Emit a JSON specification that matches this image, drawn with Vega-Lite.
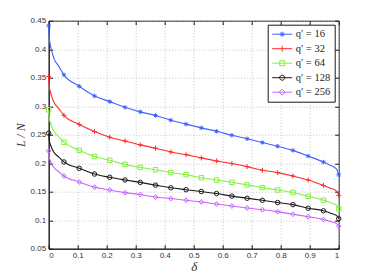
{
  "$schema": "https://vega.github.io/schema/vega-lite/v6.json",
  "width": 290,
  "height": 228,
  "autosize": "none",
  "padding": {"left": 48.7, "top": 20.7, "right": 35.3, "bottom": 31.3},
  "background": "white",
  "config": {
    "view": {"stroke": "#1a1a1a", "strokeWidth": 1},
    "axis": {
      "labelFont": "Liberation Sans",
      "labelFontSize": 8,
      "labelColor": "#333333",
      "tickColor": "#1a1a1a",
      "domainColor": "#1a1a1a",
      "titleFont": "Liberation Serif",
      "titleFontStyle": "italic",
      "titleFontWeight": "normal",
      "titleColor": "#333333",
      "gridColor": "#b8b8b8",
      "gridDash": [1, 2],
      "gridWidth": 0.8
    },
    "legend": {
      "symbolOpacity": 1
    }
  },
  "data": {
    "values": [
      {"series": "q′ = 16", "delta": 0, "LN": 0.441, "marker": 1},
      {"series": "q′ = 16", "delta": 0.002, "LN": 0.4195, "marker": 0},
      {"series": "q′ = 16", "delta": 0.007, "LN": 0.404, "marker": 0},
      {"series": "q′ = 16", "delta": 0.018, "LN": 0.384, "marker": 0},
      {"series": "q′ = 16", "delta": 0.036, "LN": 0.369, "marker": 0},
      {"series": "q′ = 16", "delta": 0.0526, "LN": 0.355, "marker": 1},
      {"series": "q′ = 16", "delta": 0.1053, "LN": 0.335, "marker": 1},
      {"series": "q′ = 16", "delta": 0.1579, "LN": 0.318, "marker": 1},
      {"series": "q′ = 16", "delta": 0.2105, "LN": 0.308, "marker": 1},
      {"series": "q′ = 16", "delta": 0.2632, "LN": 0.298, "marker": 1},
      {"series": "q′ = 16", "delta": 0.3158, "LN": 0.29, "marker": 1},
      {"series": "q′ = 16", "delta": 0.3684, "LN": 0.2837, "marker": 1},
      {"series": "q′ = 16", "delta": 0.4211, "LN": 0.2755, "marker": 1},
      {"series": "q′ = 16", "delta": 0.4737, "LN": 0.2685, "marker": 1},
      {"series": "q′ = 16", "delta": 0.5263, "LN": 0.262, "marker": 1},
      {"series": "q′ = 16", "delta": 0.5789, "LN": 0.256, "marker": 1},
      {"series": "q′ = 16", "delta": 0.6316, "LN": 0.249, "marker": 1},
      {"series": "q′ = 16", "delta": 0.6842, "LN": 0.2428, "marker": 1},
      {"series": "q′ = 16", "delta": 0.7368, "LN": 0.2363, "marker": 1},
      {"series": "q′ = 16", "delta": 0.7895, "LN": 0.2298, "marker": 1},
      {"series": "q′ = 16", "delta": 0.8421, "LN": 0.2225, "marker": 1},
      {"series": "q′ = 16", "delta": 0.8947, "LN": 0.2125, "marker": 1},
      {"series": "q′ = 16", "delta": 0.9474, "LN": 0.202, "marker": 1},
      {"series": "q′ = 16", "delta": 0.97, "LN": 0.1966, "marker": 0},
      {"series": "q′ = 16", "delta": 0.985, "LN": 0.1929, "marker": 0},
      {"series": "q′ = 16", "delta": 0.995, "LN": 0.1878, "marker": 0},
      {"series": "q′ = 16", "delta": 1, "LN": 0.1796, "marker": 1},

      {"series": "q′ = 32", "delta": 0, "LN": 0.352, "marker": 1},
      {"series": "q′ = 32", "delta": 0.002, "LN": 0.335, "marker": 0},
      {"series": "q′ = 32", "delta": 0.007, "LN": 0.3228, "marker": 0},
      {"series": "q′ = 32", "delta": 0.018, "LN": 0.3071, "marker": 0},
      {"series": "q′ = 32", "delta": 0.036, "LN": 0.2949, "marker": 0},
      {"series": "q′ = 32", "delta": 0.0526, "LN": 0.284, "marker": 1},
      {"series": "q′ = 32", "delta": 0.1053, "LN": 0.268, "marker": 1},
      {"series": "q′ = 32", "delta": 0.1579, "LN": 0.2556, "marker": 1},
      {"series": "q′ = 32", "delta": 0.2105, "LN": 0.2456, "marker": 1},
      {"series": "q′ = 32", "delta": 0.2632, "LN": 0.239, "marker": 1},
      {"series": "q′ = 32", "delta": 0.3158, "LN": 0.2322, "marker": 1},
      {"series": "q′ = 32", "delta": 0.3684, "LN": 0.2263, "marker": 1},
      {"series": "q′ = 32", "delta": 0.4211, "LN": 0.2198, "marker": 1},
      {"series": "q′ = 32", "delta": 0.4737, "LN": 0.215, "marker": 1},
      {"series": "q′ = 32", "delta": 0.5263, "LN": 0.2093, "marker": 1},
      {"series": "q′ = 32", "delta": 0.5789, "LN": 0.204, "marker": 1},
      {"series": "q′ = 32", "delta": 0.6316, "LN": 0.1994, "marker": 1},
      {"series": "q′ = 32", "delta": 0.6842, "LN": 0.194, "marker": 1},
      {"series": "q′ = 32", "delta": 0.7368, "LN": 0.1876, "marker": 1},
      {"series": "q′ = 32", "delta": 0.7895, "LN": 0.1834, "marker": 1},
      {"series": "q′ = 32", "delta": 0.8421, "LN": 0.1776, "marker": 1},
      {"series": "q′ = 32", "delta": 0.8947, "LN": 0.1705, "marker": 1},
      {"series": "q′ = 32", "delta": 0.9474, "LN": 0.161, "marker": 1},
      {"series": "q′ = 32", "delta": 0.97, "LN": 0.1566, "marker": 0},
      {"series": "q′ = 32", "delta": 0.985, "LN": 0.1537, "marker": 0},
      {"series": "q′ = 32", "delta": 0.995, "LN": 0.1496, "marker": 0},
      {"series": "q′ = 32", "delta": 1, "LN": 0.1435, "marker": 1},

      {"series": "q′ = 64", "delta": 0, "LN": 0.2936, "marker": 1},
      {"series": "q′ = 64", "delta": 0.002, "LN": 0.2794, "marker": 0},
      {"series": "q′ = 64", "delta": 0.007, "LN": 0.2692, "marker": 0},
      {"series": "q′ = 64", "delta": 0.018, "LN": 0.2561, "marker": 0},
      {"series": "q′ = 64", "delta": 0.036, "LN": 0.2459, "marker": 0},
      {"series": "q′ = 64", "delta": 0.0526, "LN": 0.2368, "marker": 1},
      {"series": "q′ = 64", "delta": 0.1053, "LN": 0.2227, "marker": 1},
      {"series": "q′ = 64", "delta": 0.1579, "LN": 0.2117, "marker": 1},
      {"series": "q′ = 64", "delta": 0.2105, "LN": 0.2052, "marker": 1},
      {"series": "q′ = 64", "delta": 0.2632, "LN": 0.198, "marker": 1},
      {"series": "q′ = 64", "delta": 0.3158, "LN": 0.1925, "marker": 1},
      {"series": "q′ = 64", "delta": 0.3684, "LN": 0.1885, "marker": 1},
      {"series": "q′ = 64", "delta": 0.4211, "LN": 0.1837, "marker": 1},
      {"series": "q′ = 64", "delta": 0.4737, "LN": 0.18, "marker": 1},
      {"series": "q′ = 64", "delta": 0.5263, "LN": 0.1745, "marker": 1},
      {"series": "q′ = 64", "delta": 0.5789, "LN": 0.1705, "marker": 1},
      {"series": "q′ = 64", "delta": 0.6316, "LN": 0.1665, "marker": 1},
      {"series": "q′ = 64", "delta": 0.6842, "LN": 0.162, "marker": 1},
      {"series": "q′ = 64", "delta": 0.7368, "LN": 0.1572, "marker": 1},
      {"series": "q′ = 64", "delta": 0.7895, "LN": 0.153, "marker": 1},
      {"series": "q′ = 64", "delta": 0.8421, "LN": 0.1487, "marker": 1},
      {"series": "q′ = 64", "delta": 0.8947, "LN": 0.142, "marker": 1},
      {"series": "q′ = 64", "delta": 0.9474, "LN": 0.1352, "marker": 1},
      {"series": "q′ = 64", "delta": 0.97, "LN": 0.1311, "marker": 0},
      {"series": "q′ = 64", "delta": 0.985, "LN": 0.1285, "marker": 0},
      {"series": "q′ = 64", "delta": 0.995, "LN": 0.125, "marker": 0},
      {"series": "q′ = 64", "delta": 1, "LN": 0.1196, "marker": 1},

      {"series": "q′ = 128", "delta": 0, "LN": 0.2526, "marker": 1},
      {"series": "q′ = 128", "delta": 0.002, "LN": 0.24, "marker": 0},
      {"series": "q′ = 128", "delta": 0.007, "LN": 0.231, "marker": 0},
      {"series": "q′ = 128", "delta": 0.018, "LN": 0.2193, "marker": 0},
      {"series": "q′ = 128", "delta": 0.036, "LN": 0.2102, "marker": 0},
      {"series": "q′ = 128", "delta": 0.0526, "LN": 0.2022, "marker": 1},
      {"series": "q′ = 128", "delta": 0.1053, "LN": 0.191, "marker": 1},
      {"series": "q′ = 128", "delta": 0.1579, "LN": 0.181, "marker": 1},
      {"series": "q′ = 128", "delta": 0.2105, "LN": 0.1753, "marker": 1},
      {"series": "q′ = 128", "delta": 0.2632, "LN": 0.1706, "marker": 1},
      {"series": "q′ = 128", "delta": 0.3158, "LN": 0.1663, "marker": 1},
      {"series": "q′ = 128", "delta": 0.3684, "LN": 0.1615, "marker": 1},
      {"series": "q′ = 128", "delta": 0.4211, "LN": 0.1568, "marker": 1},
      {"series": "q′ = 128", "delta": 0.4737, "LN": 0.1535, "marker": 1},
      {"series": "q′ = 128", "delta": 0.5263, "LN": 0.1503, "marker": 1},
      {"series": "q′ = 128", "delta": 0.5789, "LN": 0.1468, "marker": 1},
      {"series": "q′ = 128", "delta": 0.6316, "LN": 0.1422, "marker": 1},
      {"series": "q′ = 128", "delta": 0.6842, "LN": 0.1385, "marker": 1},
      {"series": "q′ = 128", "delta": 0.7368, "LN": 0.1349, "marker": 1},
      {"series": "q′ = 128", "delta": 0.7895, "LN": 0.131, "marker": 1},
      {"series": "q′ = 128", "delta": 0.8421, "LN": 0.1273, "marker": 1},
      {"series": "q′ = 128", "delta": 0.8947, "LN": 0.121, "marker": 1},
      {"series": "q′ = 128", "delta": 0.9474, "LN": 0.1165, "marker": 1},
      {"series": "q′ = 128", "delta": 0.97, "LN": 0.1126, "marker": 0},
      {"series": "q′ = 128", "delta": 0.985, "LN": 0.1102, "marker": 0},
      {"series": "q′ = 128", "delta": 0.995, "LN": 0.107, "marker": 0},
      {"series": "q′ = 128", "delta": 1, "LN": 0.1027, "marker": 1},

      {"series": "q′ = 256", "delta": 0, "LN": 0.2215, "marker": 1},
      {"series": "q′ = 256", "delta": 0.002, "LN": 0.2105, "marker": 0},
      {"series": "q′ = 256", "delta": 0.007, "LN": 0.2026, "marker": 0},
      {"series": "q′ = 256", "delta": 0.018, "LN": 0.1925, "marker": 0},
      {"series": "q′ = 256", "delta": 0.036, "LN": 0.1846, "marker": 0},
      {"series": "q′ = 256", "delta": 0.0526, "LN": 0.1776, "marker": 1},
      {"series": "q′ = 256", "delta": 0.1053, "LN": 0.167, "marker": 1},
      {"series": "q′ = 256", "delta": 0.1579, "LN": 0.158, "marker": 1},
      {"series": "q′ = 256", "delta": 0.2105, "LN": 0.153, "marker": 1},
      {"series": "q′ = 256", "delta": 0.2632, "LN": 0.1484, "marker": 1},
      {"series": "q′ = 256", "delta": 0.3158, "LN": 0.145, "marker": 1},
      {"series": "q′ = 256", "delta": 0.3684, "LN": 0.1407, "marker": 1},
      {"series": "q′ = 256", "delta": 0.4211, "LN": 0.138, "marker": 1},
      {"series": "q′ = 256", "delta": 0.4737, "LN": 0.1349, "marker": 1},
      {"series": "q′ = 256", "delta": 0.5263, "LN": 0.132, "marker": 1},
      {"series": "q′ = 256", "delta": 0.5789, "LN": 0.1284, "marker": 1},
      {"series": "q′ = 256", "delta": 0.6316, "LN": 0.1249, "marker": 1},
      {"series": "q′ = 256", "delta": 0.6842, "LN": 0.1215, "marker": 1},
      {"series": "q′ = 256", "delta": 0.7368, "LN": 0.1183, "marker": 1},
      {"series": "q′ = 256", "delta": 0.7895, "LN": 0.115, "marker": 1},
      {"series": "q′ = 256", "delta": 0.8421, "LN": 0.1105, "marker": 1},
      {"series": "q′ = 256", "delta": 0.8947, "LN": 0.106, "marker": 1},
      {"series": "q′ = 256", "delta": 0.9474, "LN": 0.1013, "marker": 1},
      {"series": "q′ = 256", "delta": 0.97, "LN": 0.098, "marker": 0},
      {"series": "q′ = 256", "delta": 0.985, "LN": 0.096, "marker": 0},
      {"series": "q′ = 256", "delta": 0.995, "LN": 0.0933, "marker": 0},
      {"series": "q′ = 256", "delta": 1, "LN": 0.0895, "marker": 1}
    ]
  },
  "layer": [
    {
      "mark": {"type": "line", "interpolate": "monotone", "strokeWidth": 1.1},
      "encoding": {
        "x": {
          "field": "delta", "type": "quantitative",
          "scale": {"domain": [0, 1], "nice": false, "zero": false},
          "axis": {
            "orient": "bottom",
            "values": [0, 0.1, 0.2, 0.3, 0.4, 0.5, 0.6, 0.7, 0.8, 0.9, 1],
            "format": "~g",
            "grid": true,
            "tickSize": -4,
            "labelPadding": 7,
            "title": "δ",
            "titleFontSize": 13,
            "titlePadding": 1
          }
        },
        "y": {
          "field": "LN", "type": "quantitative",
          "scale": {"domain": [0.05, 0.45], "nice": false, "zero": false},
          "axis": {
            "orient": "left",
            "values": [0.05, 0.1, 0.15, 0.2, 0.25, 0.3, 0.35, 0.4, 0.45],
            "format": "~g",
            "grid": true,
            "tickSize": -4,
            "labelPadding": 7,
            "title": "L / N",
            "titleFontSize": 12,
            "titlePadding": 3
          }
        },
        "color": {
          "field": "series", "type": "nominal",
          "scale": {
            "domain": ["q′ = 16", "q′ = 32", "q′ = 64", "q′ = 128", "q′ = 256"],
            "range": ["#4062ff", "#ff2b2b", "#86f040", "#1a1a1a", "#c864ff"]
          },
          "legend": null
        }
      }
    },
    {
      "transform": [{"filter": "datum.marker == 1"}],
      "mark": {"type": "point", "filled": false, "size": 20, "strokeWidth": 1, "opacity": 1},
      "encoding": {
        "x": {
          "field": "delta", "type": "quantitative",
          "axis": {
            "orient": "top",
            "values": [0, 0.1, 0.2, 0.3, 0.4, 0.5, 0.6, 0.7, 0.8, 0.9, 1],
            "labels": false, "grid": false, "domain": false, "tickSize": -4, "title": null
          }
        },
        "y": {
          "field": "LN", "type": "quantitative",
          "axis": {
            "orient": "right",
            "values": [0.05, 0.1, 0.15, 0.2, 0.25, 0.3, 0.35, 0.4, 0.45],
            "labels": false, "grid": false, "domain": false, "tickSize": -4, "title": null
          }
        },
        "color": {"field": "series", "type": "nominal", "legend": null},
        "shape": {
          "field": "series", "type": "nominal",
          "scale": {
            "domain": ["q′ = 16", "q′ = 32", "q′ = 64", "q′ = 128", "q′ = 256"],
            "range": [
              "M-1,0H1M0,-1V1M-0.7,-0.7L0.7,0.7M-0.7,0.7L0.7,-0.7",
              "M-1.1,0H1.1M0,-1.1V1.1",
              "square",
              "circle",
              "M0,-1.1L1,0L0,1.1L-1,0Z"
            ]
          },
          "legend": null
        }
      }
    },
    {
      "transform": [{"filter": "datum.marker == 1"}],
      "mark": {"type": "point", "filled": false, "opacity": 0, "size": 1},
      "encoding": {
        "x": {"field": "delta", "type": "quantitative", "axis": null},
        "y": {"field": "LN", "type": "quantitative", "axis": null},
        "color": {
          "field": "series", "type": "nominal",
          "legend": {
            "orient": "top-right",
            "offset": 4,
            "title": null,
            "strokeColor": "#1a1a1a",
            "fillColor": "white",
            "padding": 4,
            "rowPadding": 3.5,
            "symbolSize": 100,
            "symbolStrokeWidth": 1,
            "symbolOpacity": 1,
            "labelOffset": 13,
            "labelFont": "Liberation Serif",
            "labelFontSize": 10.5,
            "labelColor": "#1a1a1a"
          }
        },
        "shape": {
          "field": "series", "type": "nominal",
          "scale": {
            "domain": ["q′ = 16", "q′ = 32", "q′ = 64", "q′ = 128", "q′ = 256"],
            "range": [
              "M-1,0H3M0.5,0H1.5M1,-0.5V0.5M0.65,-0.35L1.35,0.35M0.65,0.35L1.35,-0.35",
              "M-1,0H3M1,-0.6V0.6",
              "M-1,0H3M0.5,-0.5H1.5V0.5H0.5Z",
              "M-1,0H3M1.5,0A0.5,0.5,0,1,1,0.5,0A0.5,0.5,0,1,1,1.5,0Z",
              "M-1,0H3M1,-0.6L1.6,0L1,0.6L0.4,0Z"
            ]
          },
          "legend": {
            "orient": "top-right",
            "offset": 4,
            "title": null,
            "strokeColor": "#1a1a1a",
            "fillColor": "white",
            "padding": 4,
            "rowPadding": 3.5,
            "symbolSize": 100,
            "symbolStrokeWidth": 1,
            "symbolOpacity": 1,
            "labelOffset": 13,
            "labelFont": "Liberation Serif",
            "labelFontSize": 10.5,
            "labelColor": "#1a1a1a"
          }
        }
      }
    }
  ],
  "resolve": {
    "scale": {"shape": "independent"},
    "axis": {"x": "independent", "y": "independent"},
    "legend": {"color": "independent"}
  }
}
